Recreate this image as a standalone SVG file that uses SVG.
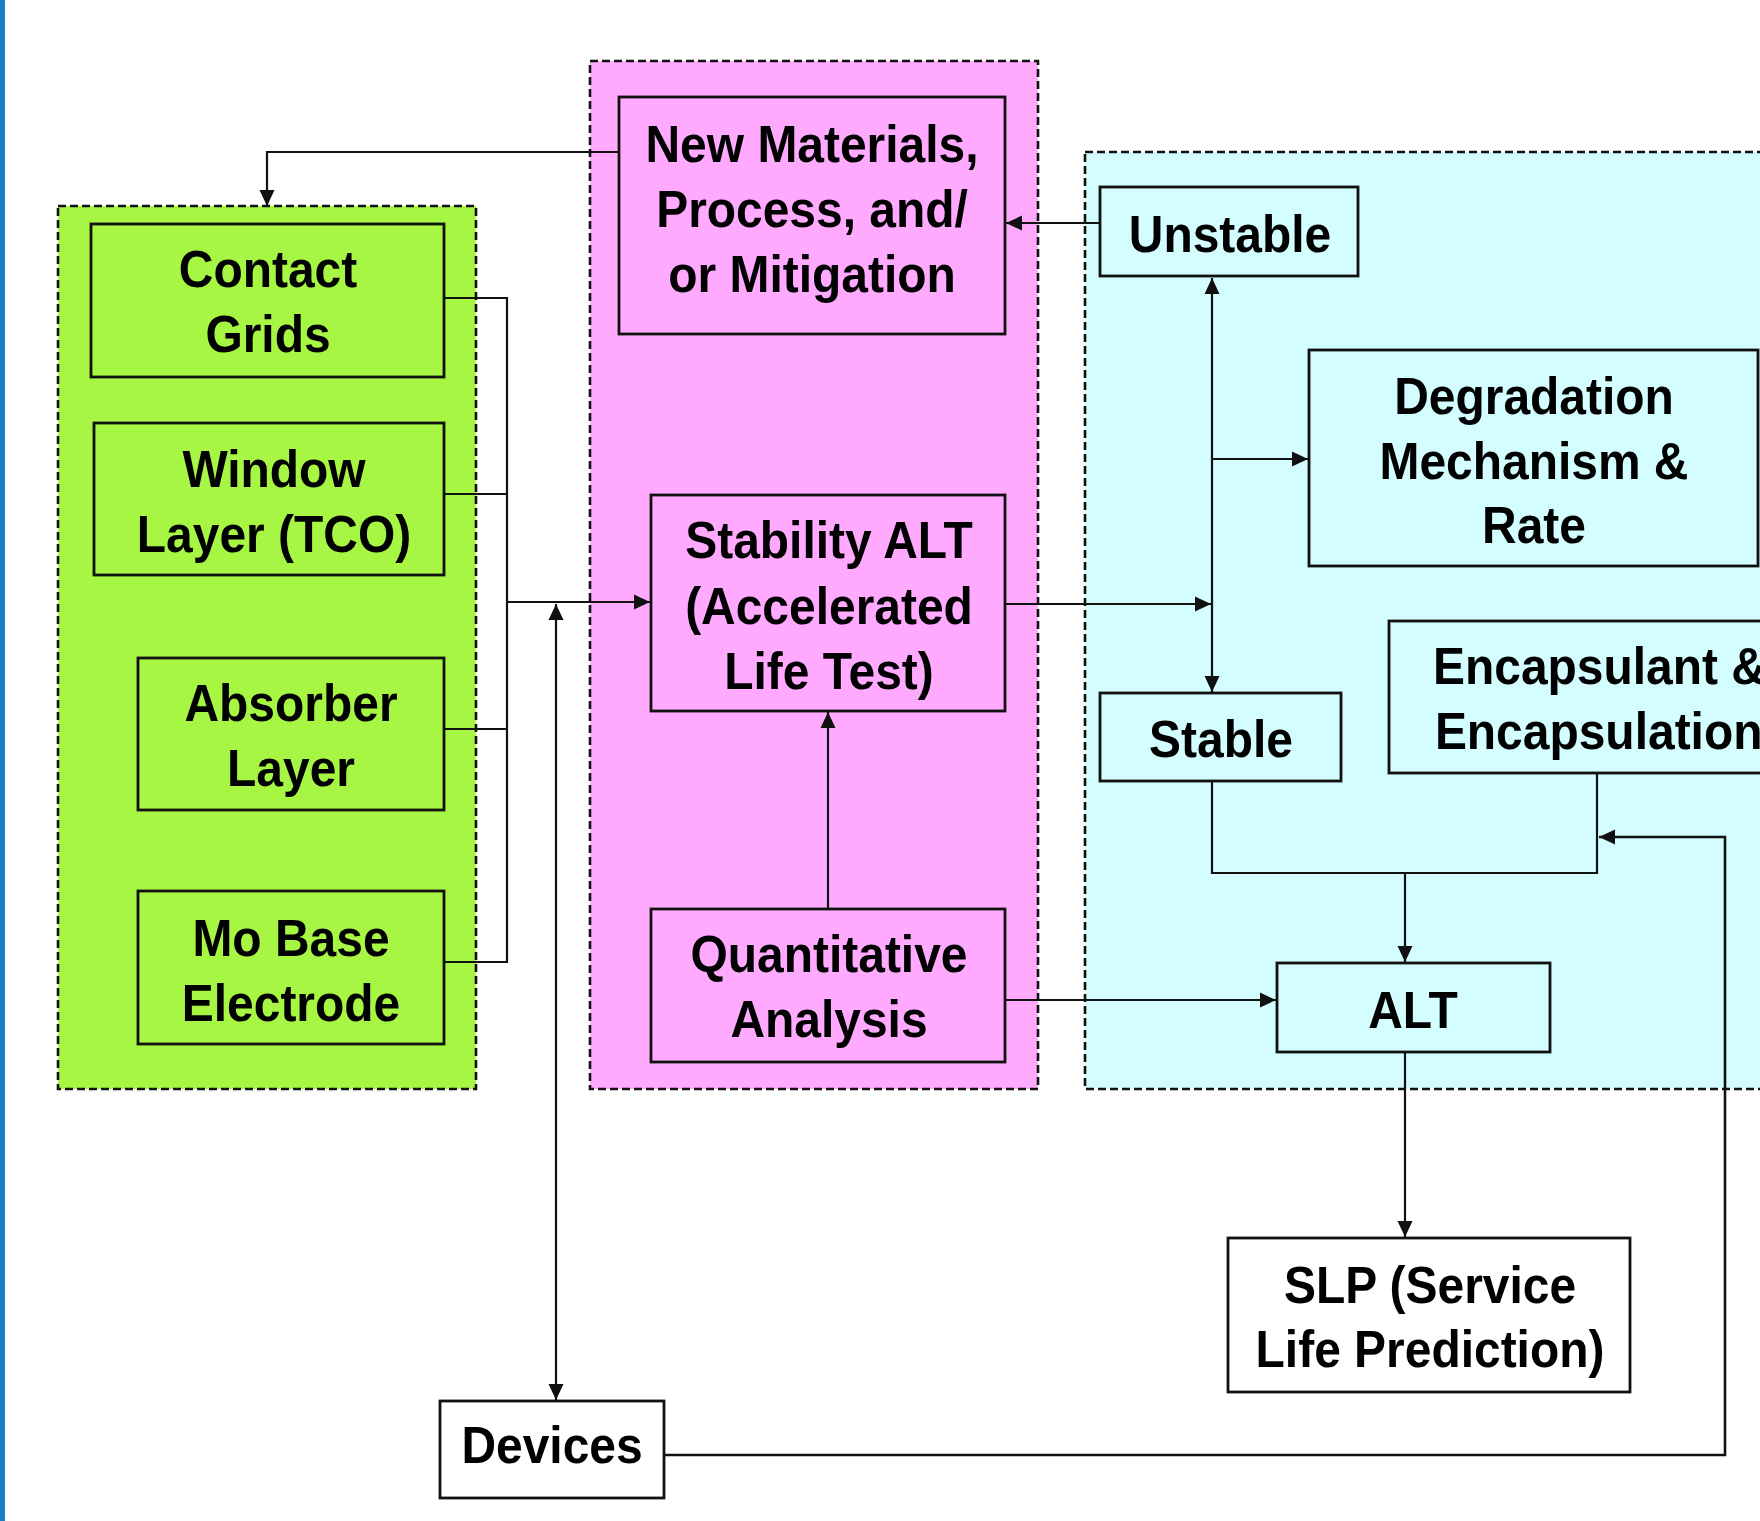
<svg xmlns="http://www.w3.org/2000/svg" width="1760" height="1521" viewBox="0 0 1760 1521">
<style>
.grp{stroke:#111;stroke-width:2.6;stroke-dasharray:8 4}
.box{stroke:#111;stroke-width:2.8}
.g{fill:#a7f643}
.p{fill:#ffaafe}
.c{fill:#d3fdfe}
.w{fill:#fff}
.t{font-family:"Liberation Sans",Arial,sans-serif;font-weight:bold;font-size:51px;fill:#000;text-anchor:middle}
.ln{fill:none;stroke:#111;stroke-width:2.2}
.ar{marker-end:url(#ah)}
</style>
<defs>
<marker id="ah" markerWidth="17" markerHeight="16" refX="16" refY="8" orient="auto-start-reverse" markerUnits="userSpaceOnUse">
<path d="M0,0.5 L16,8 L0,15.5 z" fill="#111"/>
</marker>
</defs>
<rect x="0" y="0" width="1760" height="1521" fill="#fff"/>
<rect x="0" y="0" width="5" height="1521" fill="#1780c6"/>

<g id="groups">
<rect id="group-green" class="grp g" x="58" y="206" width="418" height="883"/>
<rect id="group-pink" class="grp p" x="590" y="61" width="448" height="1028"/>
<rect id="group-cyan" class="grp c" x="1085" y="152" width="700" height="937"/>
</g>

<g id="connectors">
<path class="ln ar" d="M619,152 H267 V206"/>
<path class="ln ar" d="M1100,223 H1006"/>
<path class="ln" d="M444,298 H507 V962 H444 M444,494 H507 M444,729 H507"/>
<path class="ln ar" d="M507,602 H650"/>
<path class="ln ar" d="M556,1400 V604" marker-start="url(#ah)"/>
<path class="ln ar" d="M1005,604 H1211"/>
<path class="ln ar" d="M1212,278 V692" marker-start="url(#ah)"/>
<path class="ln ar" d="M1212,459 H1308"/>
<path class="ln" d="M1212,781 V873 H1597 V773"/>
<path class="ln ar" d="M1405,873 V962"/>
<path class="ln ar" d="M828,909 V712"/>
<path class="ln ar" d="M1005,1000 H1276"/>
<path class="ln ar" d="M1405,1052 V1237"/>
<path class="ln ar" style="stroke-width:2.6" d="M664,1455 H1725 V837 H1599"/>
</g>

<g id="node-contact-grids">
<rect class="box g" x="91" y="224" width="353" height="153"/>
<text class="t" transform="translate(268 0) scale(0.94 1)"><tspan x="0" y="287">Contact</tspan><tspan x="0" y="352">Grids</tspan></text>
</g>
<g id="node-window-layer">
<rect class="box g" x="94" y="423" width="350" height="152"/>
<text class="t" transform="translate(274 0) scale(0.94 1)"><tspan x="0" y="487">Window</tspan><tspan x="0" y="552">Layer (TCO)</tspan></text>
</g>
<g id="node-absorber-layer">
<rect class="box g" x="138" y="658" width="306" height="152"/>
<text class="t" transform="translate(291 0) scale(0.94 1)"><tspan x="0" y="721">Absorber</tspan><tspan x="0" y="786">Layer</tspan></text>
</g>
<g id="node-mo-base">
<rect class="box g" x="138" y="891" width="306" height="153"/>
<text class="t" transform="translate(291 0) scale(0.94 1)"><tspan x="0" y="956">Mo Base</tspan><tspan x="0" y="1021">Electrode</tspan></text>
</g>

<g id="node-new-materials">
<rect class="box p" x="619" y="97" width="386" height="237"/>
<text class="t" transform="translate(812 0) scale(0.94 1)"><tspan x="0" y="162">New Materials,</tspan><tspan x="0" y="227">Process, and/</tspan><tspan x="0" y="292">or Mitigation</tspan></text>
</g>
<g id="node-stability-alt">
<rect class="box p" x="651" y="495" width="354" height="216"/>
<text class="t" transform="translate(829 0) scale(0.94 1)"><tspan x="0" y="558">Stability ALT</tspan><tspan x="0" y="624">(Accelerated</tspan><tspan x="0" y="689">Life Test)</tspan></text>
</g>
<g id="node-quantitative">
<rect class="box p" x="651" y="909" width="354" height="153"/>
<text class="t" transform="translate(829 0) scale(0.94 1)"><tspan x="0" y="972">Quantitative</tspan><tspan x="0" y="1037">Analysis</tspan></text>
</g>

<g id="node-unstable">
<rect class="box c" x="1100" y="187" width="258" height="89"/>
<text class="t" transform="translate(1230 0) scale(0.94 1)"><tspan x="0" y="252">Unstable</tspan></text>
</g>
<g id="node-degradation">
<rect class="box c" x="1309" y="350" width="449" height="216"/>
<text class="t" transform="translate(1534 0) scale(0.94 1)"><tspan x="0" y="414">Degradation</tspan><tspan x="0" y="479">Mechanism &amp;</tspan><tspan x="0" y="543">Rate</tspan></text>
</g>
<g id="node-stable">
<rect class="box c" x="1100" y="693" width="241" height="88"/>
<text class="t" transform="translate(1221 0) scale(0.94 1)"><tspan x="0" y="757">Stable</tspan></text>
</g>
<g id="node-encapsulant">
<rect class="box c" x="1389" y="621" width="420" height="152"/>
<text class="t" style="text-anchor:start" transform="translate(1433 0) scale(0.94 1)"><tspan x="0" y="684">Encapsulant &amp;</tspan><tspan x="2" y="749">Encapsulation</tspan></text>
</g>
<g id="node-alt">
<rect class="box c" x="1277" y="963" width="273" height="89"/>
<text class="t" transform="translate(1413 0) scale(0.94 1)"><tspan x="0" y="1028">ALT</tspan></text>
</g>

<g id="node-slp">
<rect class="box w" x="1228" y="1238" width="402" height="154"/>
<text class="t" transform="translate(1430 0) scale(0.94 1)"><tspan x="0" y="1303">SLP (Service</tspan><tspan x="0" y="1367">Life Prediction)</tspan></text>
</g>
<g id="node-devices">
<rect class="box w" x="440" y="1401" width="224" height="97"/>
<text class="t" transform="translate(552 0) scale(0.94 1)"><tspan x="0" y="1463">Devices</tspan></text>
</g>
</svg>
